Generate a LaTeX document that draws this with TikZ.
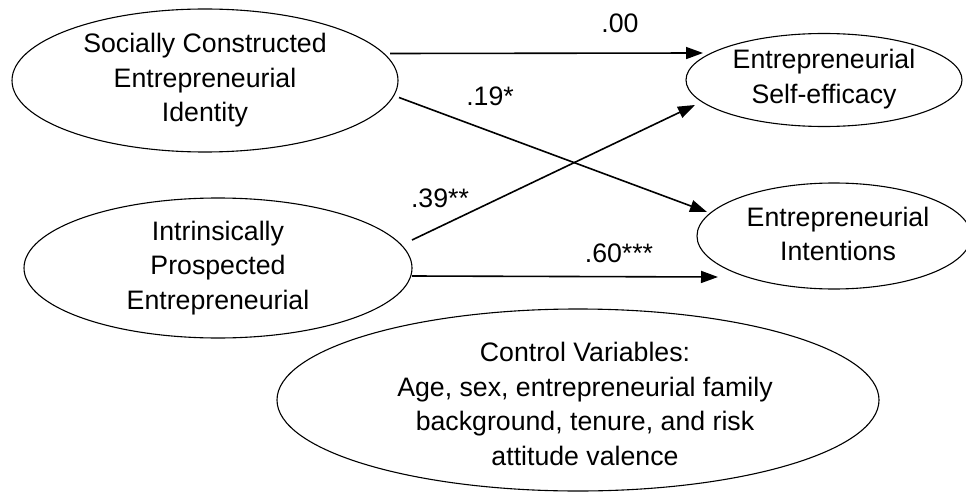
\documentclass[tikz,border=0pt]{standalone}
\usepackage{fontspec}
\setmainfont{Liberation Sans}
\usetikzlibrary{shapes.geometric,arrows.meta,calc}
\begin{document}
\begin{tikzpicture}[x=1pt,y=-1pt,
  oval/.style={draw, ellipse, line width=1.1pt, inner sep=0pt},
  txt/.style={align=center, font=\fontsize{26.7}{34.5}\selectfont, inner sep=0pt},
  lbl/.style={font=\fontsize{26.7}{32}\selectfont, inner sep=0pt},
  arr/.style={line width=1.6pt, -{Triangle[length=17pt,width=12pt]}}]
\useasboundingbox (0,0) rectangle (966,492);
\fill[white] (0,0) rectangle (966,492);
% ellipses
\node[oval, minimum width=386pt, minimum height=143pt] (e1) at (205,80.5) {};
\node[oval, minimum width=388pt, minimum height=140pt] (e2) at (218,268) {};
\node[oval, minimum width=276pt, minimum height=93pt] (e3) at (824,80) {};
\node[oval, minimum width=274pt, minimum height=106pt] (e4) at (834,236) {};
\node[oval, minimum width=602pt, minimum height=182pt] (e5) at (578,400) {};
% texts
\node[txt] (t1) at (e1) {Socially Constructed\\Entrepreneurial\\Identity};
\node[txt] (t2) at (e2) {Intrinsically\\Prospected\\Entrepreneurial};
\node[txt] (t3) at ($(e3)+(0,-1)$) {Entrepreneurial\\Self-efficacy};
\node[txt] (t4) at ($(e4)+(4,-2)$) {Entrepreneurial\\Intentions};
\node[txt] (t5) at ($(e5)+(7,4)$) {Control Variables:\\Age, sex, entrepreneurial family\\background, tenure, and risk\\attitude valence};
% arrows
\draw[arr] ($(e1.center)+(185,-27)$) -- ($(e3.center)+(-121,-27)$);
\draw[arr] ($(e1.center)+(194,17)$) -- ($(e4.center)+(-127,-24)$);
\draw[arr] ($(e2.center)+(194,-28)$) -- ($(e3.center)+(-129,25)$);
\draw[arr] ($(e2.center)+(194,8)$) -- ($(e4.center)+(-116,41)$);
% labels
\node[lbl] (l1) at (620,23) {.00};
\node[lbl] (l2) at (490,96) {.19*};
\node[lbl] (l3) at (440,198) {.39**};
\node[lbl] (l4) at (619,253) {.60***};
\end{tikzpicture}
\end{document}
